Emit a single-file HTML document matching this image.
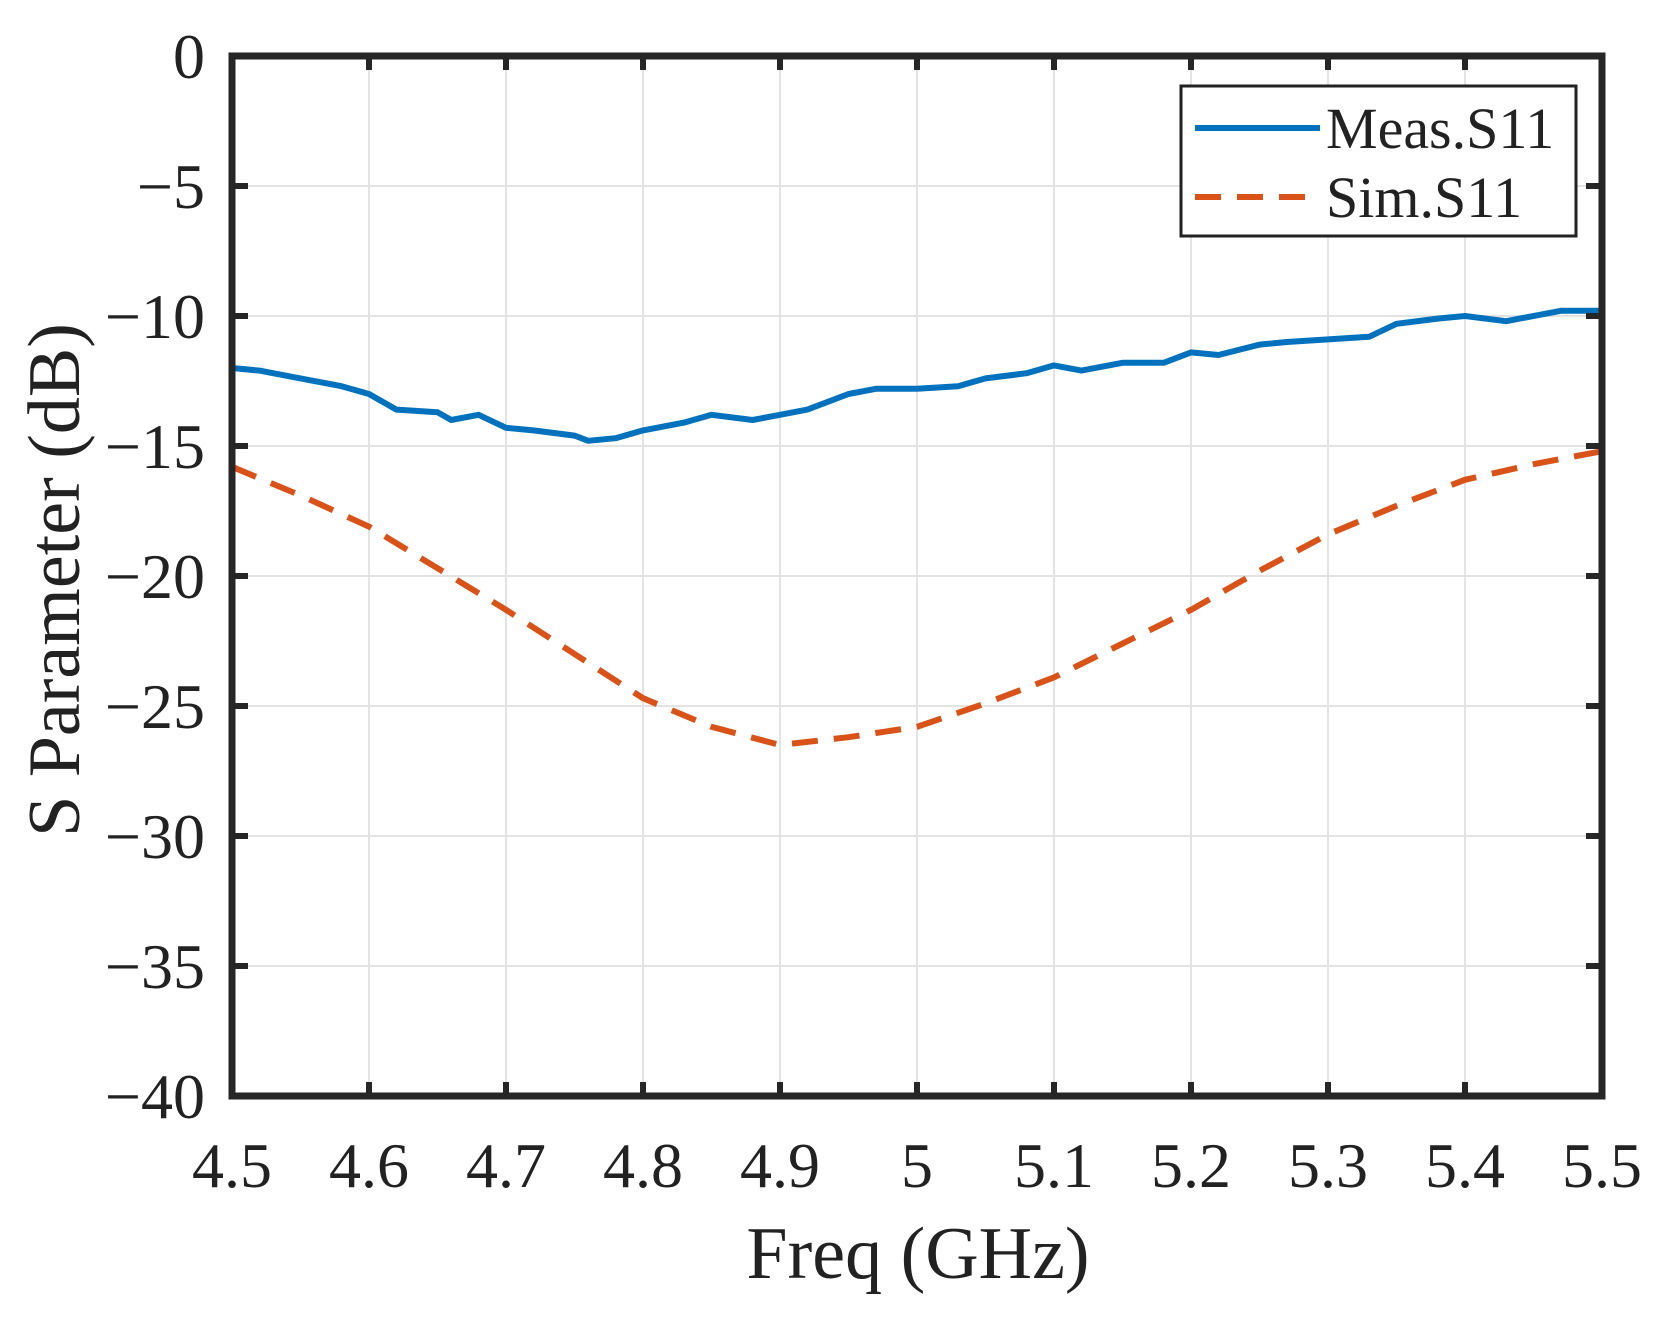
<!DOCTYPE html>
<html><head><meta charset="utf-8"><style>
body{margin:0;background:#fff}
svg text{font-family:"Liberation Serif",serif;fill:#222}
</style></head><body>
<svg width="1659" height="1315" viewBox="0 0 1659 1315">
<g id="grid"></g>
<g id="series"></g>
<g id="axes"></g>
<text x="62" y="580" font-size="74" text-anchor="middle" transform="rotate(-90 62 580)" dominant-baseline="middle">S Parameter (dB)</text>
<text x="918" y="1278" font-size="74" text-anchor="middle">Freq (GHz)</text>
<g>
<rect x="1181" y="86" width="395" height="150" fill="#fff" stroke="#222" stroke-width="3"/>
<line x1="1195" y1="128" x2="1320" y2="128" stroke="#0072BD" stroke-width="6"/>
<text x="1326" y="148" font-size="58">Meas.S11</text>
<line x1="1195" y1="197" x2="1320" y2="197" stroke="#D95319" stroke-width="6" stroke-dasharray="26,16"/>
<text x="1326" y="217" font-size="58">Sim.S11</text>
</g>
</svg>
<script>
const xTicks=[4.5,4.6,4.7,4.8,4.9,5,5.1,5.2,5.3,5.4,5.5];
const yTicks=[0,-5,-10,-15,-20,-25,-30,-35,-40];
const measF=[4.5,4.52,4.55,4.58,4.6,4.62,4.65,4.66,4.68,4.7,4.72,4.75,4.76,4.78,4.8,4.83,4.85,4.88,4.9,4.92,4.95,4.97,5.0,5.03,5.05,5.08,5.1,5.12,5.15,5.18,5.2,5.22,5.25,5.27,5.3,5.33,5.35,5.38,5.4,5.43,5.47,5.5];
const measS=[-12.0,-12.1,-12.4,-12.7,-13.0,-13.6,-13.7,-14.0,-13.8,-14.3,-14.4,-14.6,-14.8,-14.7,-14.4,-14.1,-13.8,-14.0,-13.8,-13.6,-13.0,-12.8,-12.8,-12.7,-12.4,-12.2,-11.9,-12.1,-11.8,-11.8,-11.4,-11.5,-11.1,-11.0,-10.9,-10.8,-10.3,-10.1,-10.0,-10.2,-9.8,-9.8];
const simF=[4.5,4.55,4.6,4.65,4.7,4.75,4.8,4.85,4.9,4.95,5.0,5.05,5.1,5.15,5.2,5.25,5.3,5.35,5.4,5.45,5.5];
const simS=[-15.8,-16.9,-18.1,-19.7,-21.3,-23.0,-24.7,-25.8,-26.5,-26.2,-25.8,-24.9,-23.9,-22.6,-21.3,-19.8,-18.4,-17.3,-16.3,-15.7,-15.2];
const L=232,R=1602,T=56,B=1096;
const sx=v=>L+(v-4.5)/(1.0)*(R-L);
const sy=v=>T+(0-v)/40*(B-T);
const NS="http://www.w3.org/2000/svg";
function mk(tag,attrs,parent){const e=document.createElementNS(NS,tag);for(const k in attrs)e.setAttribute(k,attrs[k]);parent.appendChild(e);return e;}
const grid=document.getElementById('grid'),axes=document.getElementById('axes'),series=document.getElementById('series');
xTicks.forEach(v=>{
 const g=mk('line',{x1:sx(v),x2:sx(v),y1:T,y2:B,stroke:'#e3e3e3','stroke-width':2},grid);
 
 
 [[B,B-14],[T,T+14]].forEach(p=>{const t=mk('line',{x1:sx(v),x2:sx(v),y1:p[0],y2:p[1],stroke:'#262626','stroke-width':6},axes);
 
 });
 const lb=mk('text',{x:sx(v),y:1187,'font-size':64,'text-anchor':'middle'},axes);lb.textContent=String(v);
 
 
});
yTicks.forEach(v=>{
 const g=mk('line',{x1:L,x2:R,y1:sy(v),y2:sy(v),stroke:'#e3e3e3','stroke-width':2},grid);
 
 
 [[L,L+16],[R,R-16]].forEach(p=>{const t=mk('line',{x1:p[0],x2:p[1],y1:sy(v),y2:sy(v),stroke:'#262626','stroke-width':6},axes);
 
 });
 const lb=mk('text',{x:205,y:sy(v)+22,'font-size':64,'text-anchor':'end'},axes);lb.textContent=(v<0?'\u2212'+(-v):String(v));
 
 
});
const fr=mk('rect',{x:L,y:T,width:R-L,height:B-T,fill:'none',stroke:'#262626','stroke-width':7},axes);


const pm=mk('polyline',{points:measF.map((f,i)=>sx(f)+','+sy(measS[i])).join(' '),fill:'none',stroke:'#0072BD','stroke-width':6,'stroke-linejoin':'round'},series);


const ps=mk('polyline',{points:simF.map((f,i)=>sx(f)+','+sy(simS[i])).join(' '),fill:'none',stroke:'#D95319','stroke-width':6,'stroke-dasharray':'26,16'},series);


</script>
</body></html>
